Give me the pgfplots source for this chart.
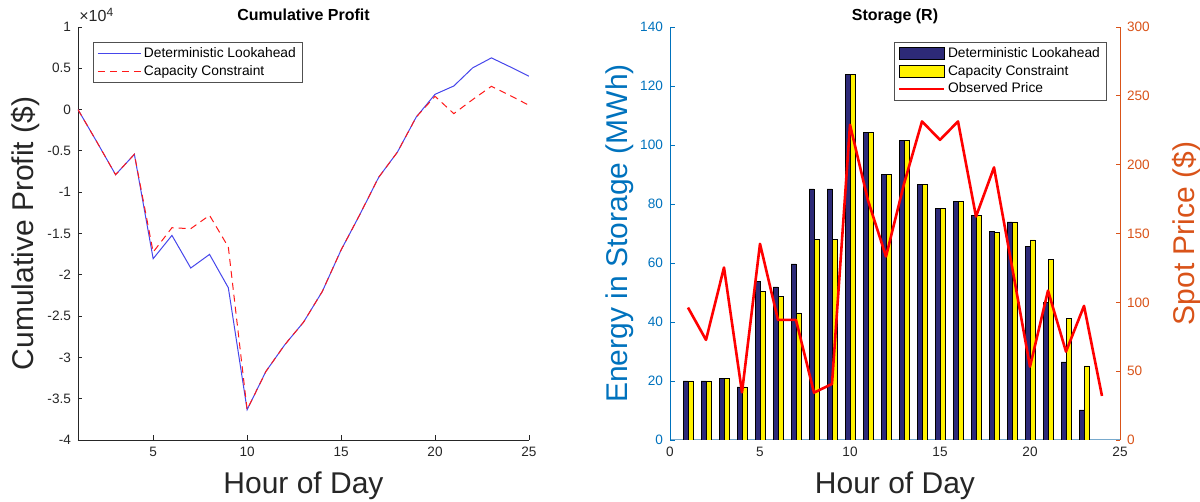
\documentclass[border=0pt]{standalone}
\usepackage{fontspec}
\setmainfont{Liberation Sans}
\usepackage{pgfplots}
\pgfplotsset{compat=1.18}
\definecolor{mgrey}{rgb}{0.15,0.15,0.15}
\definecolor{mblue}{rgb}{0,0.447,0.741}
\definecolor{morange}{rgb}{0.85,0.325,0.098}
\definecolor{navybar}{RGB}{45,42,120}
\definecolor{lineblue}{RGB}{70,70,235}
\definecolor{axisblue}{RGB}{120,170,205}
\definecolor{legframe}{RGB}{80,80,80}

\pgfplotsset{
 every axis title shift=0pt,
 mstyle/.style={
  scale only axis,
  /pgf/number format/assume math mode=true,
  tick label style={font=\fontsize{6.8}{8}\selectfont},
  label style={font=\fontsize{15}{17}\selectfont},
  title style={font=\fontsize{8}{9}\selectfont\bfseries, at={(axis description cs:0.5,1.0153)}, anchor=base},
  tick align=inside,
  major tick length=2.25pt,
  every tick/.style={line width=0.4pt},
  xlabel style={at={(axis description cs:0.5,-0.129)}, anchor=base, text=mgrey},
 }
}

\pgfplotstableread{
x blue red
1 0 0
2 -0.39 -0.39
3 -0.788 -0.788
4 -0.541 -0.541
5 -1.805 -1.725
6 -1.523 -1.43
7 -1.918 -1.442
8 -1.753 -1.28
9 -2.157 -1.664
10 -3.633 -3.633
11 -3.17 -3.17
12 -2.848 -2.848
13 -2.574 -2.574
14 -2.202 -2.202
15 -1.70 -1.70
16 -1.27 -1.27
17 -0.82 -0.82
18 -0.514 -0.514
19 -0.09 -0.09
20 0.185 0.161
21 0.286 -0.049
22 0.505 0.121
23 0.626 0.282
24 0.517 0.17
25 0.404 0.052
}\profit

\pgfplotstableread{
x navy yellow
1 20 20
2 20 20
3 21 21
4 18 18
5 53.7 50.4
6 51.9 48.6
7 59.7 43.1
8 85.1 68.1
9 85.1 68.1
10 124 124
11 104.2 104.2
12 89.9 89.9
13 101.5 101.5
14 86.6 86.6
15 78.6 78.6
16 81.0 81.0
17 76.2 76.2
18 70.6 70.5
19 73.9 73.9
20 65.6 67.8
21 46.6 61.3
22 26.5 41.3
23 10.2 25.1
}\storage

\pgfplotstableread{
x price
1 96.2
2 72.7
3 125.3
4 34.6
5 142.5
6 87.2
7 87.2
8 34.4
9 40.7
10 229
11 174
12 133.3
13 186
14 231.4
15 218
16 231.4
17 162.3
18 198
19 126
20 53.3
21 108.5
22 64.2
23 97.4
24 32
}\price

\begin{document}
\begin{tikzpicture}
\useasboundingbox (0,0) rectangle (600pt,251pt);

% ---------- Left: Cumulative Profit ----------
\begin{axis}[mstyle,
  at={(39pt,31pt)}, anchor=south west,
  width=225.5pt, height=206.5pt,
  xmin=1, xmax=25, ymin=-4, ymax=1,
  axis x line*=bottom, axis y line*=left,
  axis line style={mgrey, line width=0.4pt, -},
  tick style={mgrey},
  tick label style={text=mgrey},
  xtick={5,10,15,20,25},
  ytick={-4,-3.5,-3,-2.5,-2,-1.5,-1,-0.5,0,0.5,1},
  yticklabels={-4,-3.5,-3,-2.5,-2,-1.5,-1,-0.5,0,0.5,1},
  title={Cumulative Profit},
  xlabel={Hour of Day},
  ylabel={Cumulative Profit (\$)},
  ylabel style={at={(axis description cs:-0.1175,0.5)}, anchor=center, text=mgrey},
  legend style={at={(axis description cs:0.034,0.964)}, anchor=north west,
    draw=legframe, line width=0.4pt, fill=white,
    font=\fontsize{6.9}{8}\selectfont, inner xsep=1.8pt, inner ysep=1.2pt,
    nodes={inner sep=1.3pt, text height=5pt, text depth=1.3pt, text=black},
    cells={anchor=west}, row sep=0pt},
  legend image code/.code={\draw[#1] (0pt,0pt) -- (21.5pt,0pt);},
]
\addplot[lineblue, line width=0.5pt] table[x=x, y=blue] {\profit};
\addlegendentry{Deterministic Lookahead}
\addplot[red!90!white, line width=0.5pt, dash pattern=on 3.5pt off 2.5pt] table[x=x, y=red] {\profit};
\addlegendentry{Capacity Constraint}
\end{axis}
\node[anchor=base west, inner sep=0pt, font=\fontsize{8}{9}\selectfont, text=mgrey] at (39.5pt,240pt) {×10\textsuperscript{4}};

% ---------- Right: Storage (left y axis) ----------
\begin{axis}[mstyle,
  at={(335pt,31pt)}, anchor=south west,
  width=225pt, height=206.5pt,
  xmin=0, xmax=25, ymin=0, ymax=140,
  axis x line*=bottom, axis y line*=left,
  x axis line style={axisblue, line width=0.5pt, -},
  y axis line style={mblue, line width=0.4pt, -},
  xtick={0,5,10,15,20,25},
  ytick={0,20,40,60,80,100,120,140},
  xtick style={mgrey}, ytick style={mblue},
  xticklabel style={text=mgrey}, yticklabel style={text=mblue},
  title={Storage (R)},
  xlabel={Hour of Day},
  ylabel={Energy in Storage (MWh)},
  ylabel style={at={(axis description cs:-0.111,0.5)}, anchor=center, text=mblue},
]
\addplot[ybar, bar width=0.278, bar shift=-0.139, fill=navybar, draw=black, line width=0.3pt] table[x=x, y=navy] {\storage};
\addplot[ybar, bar width=0.278, bar shift=0.139, fill=yellow, draw=black, line width=0.3pt] table[x=x, y=yellow] {\storage};
\end{axis}

% ---------- Right: price (right y axis) ----------
\begin{axis}[mstyle,
  at={(335pt,31pt)}, anchor=south west,
  width=225pt, height=206.5pt,
  xmin=0, xmax=25, ymin=0, ymax=300,
  axis x line=none, axis y line*=right,
  y axis line style={morange, line width=0.4pt, -},
  ytick={0,50,100,150,200,250,300},
  ytick style={morange},
  yticklabel style={text=morange},
  ylabel={Spot Price (\$)},
  ylabel style={at={(axis description cs:1.147,0.5)}, anchor=center, text=morange},
  legend style={at={(axis description cs:0.970,0.964)}, anchor=north east,
    draw=legframe, line width=0.4pt, fill=white,
    font=\fontsize{6.9}{8}\selectfont, inner xsep=1.8pt, inner ysep=1.2pt,
    nodes={inner sep=1.3pt, text height=5pt, text depth=1.3pt, text=black},
    cells={anchor=west}, row sep=0pt},
]
\addlegendimage{legend image code/.code={\draw[fill=navybar, draw=black, line width=0.3pt] (0pt,-3pt) rectangle (22.5pt,3pt);}}
\addlegendentry{Deterministic Lookahead}
\addlegendimage{legend image code/.code={\draw[fill=yellow, draw=black, line width=0.3pt] (0pt,-3pt) rectangle (22.5pt,3pt);}}
\addlegendentry{Capacity Constraint}
\addplot[red, line width=1.3pt, line join=round, legend image code/.code={\draw[red, line width=1.3pt] (0pt,0pt) -- (22.5pt,0pt);}] table[x=x, y=price] {\price};
\addlegendentry{Observed Price}
\end{axis}
\end{tikzpicture}
\end{document}
